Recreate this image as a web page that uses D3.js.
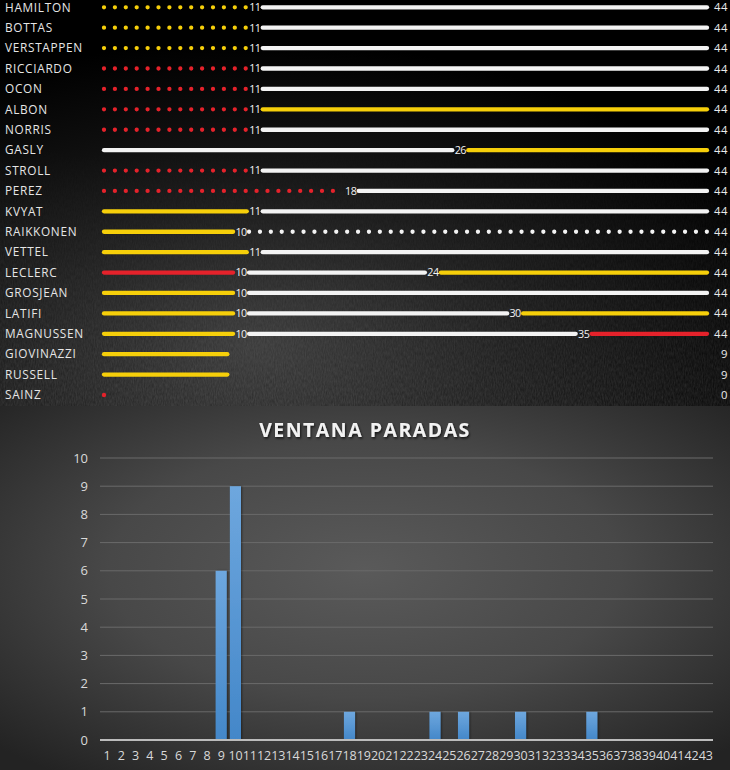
<!DOCTYPE html>
<html>
<head>
<meta charset="utf-8">
<script src="https://cdn.jsdelivr.net/npm/d3@7"></script>
<style>
  html, body { margin: 0; padding: 0; background: #000; }
  svg { display: block; }
</style>
</head>
<body>
<svg id="chart" width="730" height="770"></svg>
<script>
// ---------- DATA ----------
const drivers = ["HAMILTON","BOTTAS","VERSTAPPEN","RICCIARDO","OCON","ALBON","NORRIS","GASLY","STROLL","PEREZ",
  "KVYAT","RAIKKONEN","VETTEL","LECLERC","GROSJEAN","LATIFI","MAGNUSSEN","GIOVINAZZI","RUSSELL","SAINZ"];
// compounds per stint: S = soft (red), M = medium (yellow), H = hard (white)
const stintCompounds = [
  ["M","H"],["M","H"],["M","H"],["S","H"],["S","H"],["S","M"],["S","H"],["H","M"],["S","H"],["S","H"],
  ["M","H"],["M","H"],["M","H"],["S","H","M"],["M","H"],["M","H","M"],["M","H","S"],["M"],["M"],["S"]
];
// lap at which each stint ends
const stintEnds = [
  [11,44],[11,44],[11,44],[11,44],[11,44],[11,44],[11,44],[26,44],[11,44],[18,44],
  [11,44],[10,44],[11,44],[10,24,44],[10,44],[10,30,44],[10,35,44],[9],[9],[0]
];
// used (dotted) sets
const stintUsed = [
  [1,0],[1,0],[1,0],[1,0],[1,0],[1,0],[1,0],[0,0],[1,0],[1,0],
  [0,0],[0,1],[0,0],[0,0,0],[0,0],[0,0,0],[0,0,0],[0],[0],[0]
];
const finalLaps = [44,44,44,44,44,44,44,44,44,44,44,44,44,44,44,44,44,9,9,0];
const raceLaps = [0, 44];

const stopLaps = [1,2,3,4,5,6,7,8,9,10,11,12,13,14,15,16,17,18,19,20,21,22,23,24,25,26,27,28,29,30,
  31,32,33,34,35,36,37,38,39,40,41,42,43];
const stopCounts = [0,0,0,0,0,0,0,0,6,9,0,0,0,0,0,0,0,1,0,0,0,0,0,1,0,1,0,0,0,1,
  0,0,0,0,1,0,0,0,0,0,0,0,0];
const yTicks = [0,1,2,3,4,5,6,7,8,9,10];
const chartTitle = "VENTANA PARADAS";

// ---------- STYLE ----------
const compoundColor = { S: "#e5222b", M: "#f6cf0a", H: "#f3f3f3" };
const font = "'Open Sans', 'DejaVu Sans', sans-serif";

const svg = d3.select("#chart");
const defs = svg.append("defs");

// top background gradient
const tg = defs.append("radialGradient").attr("id","topBg")
  .attr("cx","35%").attr("cy","85%").attr("r","75%");
tg.append("stop").attr("offset","0%").attr("stop-color","#383838");
tg.append("stop").attr("offset","45%").attr("stop-color","#1c1c1c");
tg.append("stop").attr("offset","100%").attr("stop-color","#000000");

const noise = defs.append("filter").attr("id","noise").attr("x",0).attr("y",0).attr("width","100%").attr("height","100%");
noise.append("feTurbulence").attr("type","fractalNoise").attr("baseFrequency","0.9 0.25").attr("numOctaves",2).attr("seed",3).attr("result","t");
noise.append("feColorMatrix").attr("type","matrix")
  .attr("values","0 0 0 0 0.6  0 0 0 0 0.6  0 0 0 0 0.6  0 0 0 0.5 0");

const fadeMask = defs.append("linearGradient").attr("id","fadeG").attr("x1",0).attr("y1",0).attr("x2",0).attr("y2",1);
fadeMask.append("stop").attr("offset","0%").attr("stop-color","#000");
fadeMask.append("stop").attr("offset","35%").attr("stop-color","#000");
fadeMask.append("stop").attr("offset","100%").attr("stop-color","#fff");
defs.append("mask").attr("id","fadeMask").append("rect")
  .attr("x",0).attr("y",0).attr("width",730).attr("height",406).attr("fill","url(#fadeG)");

// bottom background gradient
const bg = defs.append("radialGradient").attr("id","botBg")
  .attr("cx","50%").attr("cy","45%").attr("r","70%");
bg.append("stop").attr("offset","0%").attr("stop-color","#5a5a5a");
bg.append("stop").attr("offset","50%").attr("stop-color","#484848");
bg.append("stop").attr("offset","100%").attr("stop-color","#232323");

const barG = defs.append("linearGradient").attr("id","barG").attr("x1",0).attr("y1",0).attr("x2",0).attr("y2",1);
barG.append("stop").attr("offset","0%").attr("stop-color","#6ea7de");
barG.append("stop").attr("offset","100%").attr("stop-color","#4387c9");

const shadow = defs.append("filter").attr("id","shadow").attr("x","-10%").attr("y","-30%").attr("width","130%").attr("height","160%");
shadow.append("feDropShadow").attr("dx",1).attr("dy",1.5).attr("stdDeviation",1).attr("flood-color","#000").attr("flood-opacity",0.7);

const barShadow = defs.append("filter").attr("id","barShadow").attr("x","-30%").attr("y","-5%").attr("width","160%").attr("height","110%");
barShadow.append("feDropShadow").attr("dx",1).attr("dy",0).attr("stdDeviation",1.2).attr("flood-color","#000").attr("flood-opacity",0.45);

// ---------- TOP PANEL: tyre strategy ----------
svg.append("rect").attr("x",0).attr("y",0).attr("width",730).attr("height",406).attr("fill","url(#topBg)");
svg.append("rect").attr("x",0).attr("y",0).attr("width",730).attr("height",406)
  .attr("filter","url(#noise)").attr("mask","url(#fadeMask)").attr("opacity",0.35);

const x = d3.scaleLinear().domain(raceLaps).range([104, 707]);
const yRow = d3.scalePoint().domain(drivers).range([7.3, 395]);
const gap = 8;

const topG = svg.append("g");

topG.selectAll("text.name").data(drivers).join("text")
  .attr("class","name")
  .attr("x",5).attr("y",d => yRow(d)).attr("dy","0.36em")
  .attr("fill","#e6e6e6").attr("font-family",font).attr("font-size",11.8)
  .attr("letter-spacing",0.7)
  .text(d => d);

drivers.forEach((d, i) => {
  const y = yRow(d);
  let start = 0;
  const comps = stintCompounds[i];
  comps.forEach((c, j) => {
    const end = stintEnds[i][j];
    const last = j === comps.length - 1;
    const x1 = start === 0 ? x(0) : x(start) + gap;
    const x2 = last ? x(end) : x(end) - gap;
    const col = compoundColor[c];
    if (x2 - x1 < 1) {
      topG.append("circle").attr("cx",x1).attr("cy",y).attr("r",2.2).attr("fill",col);
    } else if (stintUsed[i][j]) {
      topG.append("line").attr("x1",x1).attr("x2",x2).attr("y1",y).attr("y2",y)
        .attr("stroke",col).attr("stroke-width",4.3).attr("stroke-linecap","round")
        .attr("stroke-dasharray","0 10.9");
    } else {
      topG.append("line").attr("x1",x1).attr("x2",x2).attr("y1",y).attr("y2",y)
        .attr("stroke",col).attr("stroke-width",4.3).attr("stroke-linecap","round");
    }
    if (!last) {
      topG.append("text").attr("x",x(end)).attr("y",y).attr("dy","0.36em")
        .attr("text-anchor","middle").attr("fill","#f2f2f2")
        .attr("font-family",font).attr("font-size",10.8).attr("letter-spacing",-0.6)
        .text(end);
    }
    start = end;
  });
  topG.append("text").attr("x",728).attr("y",y).attr("dy","0.36em")
    .attr("text-anchor","end").attr("fill","#eaeaea")
    .attr("font-family",font).attr("font-size",11.3).attr("letter-spacing",0.5)
    .text(finalLaps[i]);
});

// ---------- BOTTOM PANEL: bar chart ----------
const bTop = 406;
svg.append("rect").attr("x",0).attr("y",bTop).attr("width",730).attr("height",770-bTop).attr("fill","url(#botBg)");

svg.append("text").attr("x",365).attr("y",430).attr("dy","0.36em")
  .attr("text-anchor","middle").attr("fill","#f2f2f2")
  .attr("font-family",font).attr("font-weight",700).attr("font-size",19.5)
  .attr("letter-spacing",1.5).attr("filter","url(#shadow)")
  .text(chartTitle);

const xb = d3.scaleBand().domain(stopLaps).range([100, 713]).paddingInner(0.22).paddingOuter(0.11);
const yb = d3.scaleLinear().domain([0, 10]).range([740, 458]);

const grid = svg.append("g");
grid.selectAll("line").data(yTicks.filter(t => t > 0)).join("line")
  .attr("x1",100).attr("x2",713).attr("y1",d => yb(d)).attr("y2",d => yb(d))
  .attr("stroke","#6a6a6a").attr("stroke-width",1);

const yAxis = svg.append("g").attr("transform","translate(92,0)")
  .call(d3.axisLeft(yb).tickValues(yTicks).tickSize(0).tickPadding(4));
yAxis.select(".domain").remove();
yAxis.selectAll("text").attr("fill","#d9d9d9").attr("font-family",font).attr("font-size",13);

svg.append("g").selectAll("rect").data(stopLaps).join("rect")
  .attr("x",d => xb(d)).attr("width",xb.bandwidth())
  .attr("y",(d,i) => yb(stopCounts[i])).attr("height",(d,i) => yb(0) - yb(stopCounts[i]))
  .attr("fill","url(#barG)").attr("filter","url(#barShadow)");

svg.append("line").attr("x1",100).attr("x2",713).attr("y1",yb(0)).attr("y2",yb(0))
  .attr("stroke","#bcbcbc").attr("stroke-width",2);

const xAxis = svg.append("g").attr("transform",`translate(0,${yb(0)})`)
  .call(d3.axisBottom(xb).tickSize(0).tickPadding(11));
xAxis.select(".domain").remove();
xAxis.selectAll("text").attr("fill","#d9d9d9").attr("font-family",font).attr("font-size",12.5)
  .attr("letter-spacing",-0.1);
</script>
</body>
</html>
